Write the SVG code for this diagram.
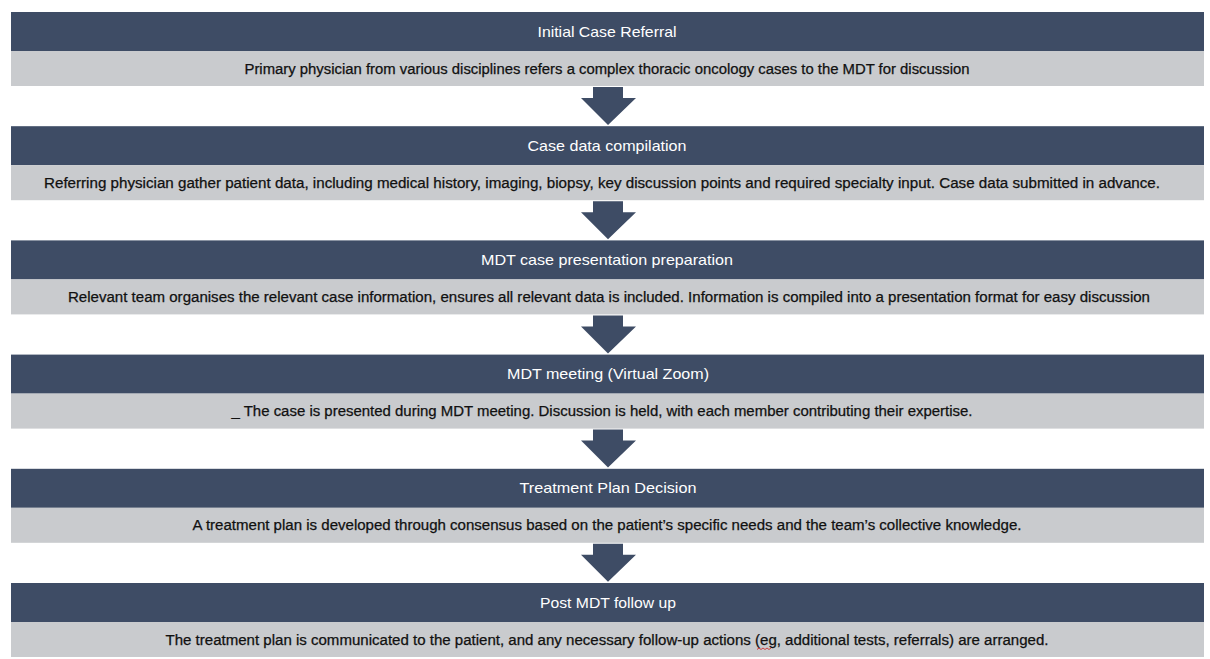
<svg xmlns="http://www.w3.org/2000/svg" width="1210" height="659" viewBox="0 0 1210 659">
<defs>
<style>
.hd{fill:#3e4c65}
.bd{fill:#c9cbce}
.ht{font-family:"Liberation Sans",Arial,sans-serif;font-size:14.5px;fill:#ffffff;text-anchor:middle}
.bt{font-family:"Liberation Sans",Arial,sans-serif;font-size:14px;fill:#111111;stroke:#111111;stroke-width:0.25;text-anchor:middle}
.ar{fill:#3e4c65}
</style>
<linearGradient id="g" x1="0" x2="1" y1="0" y2="0">
<stop offset="0" stop-color="#c3c6ca"/>
<stop offset="0.5" stop-color="#cfd1d3"/>
<stop offset="1" stop-color="#c3c6ca"/>
</linearGradient>
</defs>
<rect width="1210" height="659" fill="#ffffff"/>
<g id="step1">
<rect class="hd" x="11" y="12" width="1193" height="39"/>
<rect class="bd" x="11" y="51" width="1193" height="35" fill="url(#g)"/>
<text class="ht" x="607" y="36.5" textLength="139" lengthAdjust="spacingAndGlyphs">Initial Case Referral</text>
<text class="bt" x="607" y="73.5" textLength="725" lengthAdjust="spacingAndGlyphs">Primary physician from various disciplines refers a complex thoracic oncology cases to the MDT for discussion</text>
</g>
<g id="step2">
<rect class="hd" x="11" y="126.2" width="1193" height="39"/>
<rect class="bd" x="11" y="165.2" width="1193" height="35" fill="url(#g)"/>
<text class="ht" x="607" y="150.7" textLength="159" lengthAdjust="spacingAndGlyphs">Case data compilation</text>
<text class="bt" x="602" y="187.7" textLength="1116" lengthAdjust="spacingAndGlyphs">Referring physician gather patient data, including medical history, imaging, biopsy, key discussion points and required specialty input. Case data submitted in advance.</text>
</g>
<g id="step3">
<rect class="hd" x="11" y="240.4" width="1193" height="39"/>
<rect class="bd" x="11" y="279.4" width="1193" height="35" fill="url(#g)"/>
<text class="ht" x="607" y="264.9" textLength="252" lengthAdjust="spacingAndGlyphs">MDT case presentation preparation</text>
<text class="bt" x="609" y="301.9" textLength="1082" lengthAdjust="spacingAndGlyphs">Relevant team organises the relevant case information, ensures all relevant data is included. Information is compiled into a presentation format for easy discussion</text>
</g>
<g id="step4">
<rect class="hd" x="11" y="354.6" width="1193" height="39"/>
<rect class="bd" x="11" y="393.6" width="1193" height="35" fill="url(#g)"/>
<text class="ht" x="608" y="379.1" textLength="202" lengthAdjust="spacingAndGlyphs">MDT meeting (Virtual Zoom)</text>
<text class="bt" x="602" y="416.1" textLength="741" lengthAdjust="spacingAndGlyphs">_  The case is presented during MDT meeting. Discussion is held, with each member contributing their expertise.</text>
</g>
<g id="step5">
<rect class="hd" x="11" y="468.8" width="1193" height="39"/>
<rect class="bd" x="11" y="507.8" width="1193" height="35" fill="url(#g)"/>
<text class="ht" x="608" y="493.3" textLength="177" lengthAdjust="spacingAndGlyphs">Treatment Plan Decision</text>
<text class="bt" x="607" y="530.3" textLength="829" lengthAdjust="spacingAndGlyphs">A treatment plan is developed through consensus based on the patient’s specific needs and the team’s collective knowledge.</text>
</g>
<g id="step6">
<rect class="hd" x="11" y="583" width="1193" height="39"/>
<rect class="bd" x="11" y="622" width="1193" height="35" fill="url(#g)"/>
<text class="ht" x="608" y="607.5" textLength="136" lengthAdjust="spacingAndGlyphs">Post MDT follow up</text>
<text class="bt" x="607" y="644.5" textLength="883" lengthAdjust="spacingAndGlyphs">The treatment plan is communicated to the patient, and any necessary follow-up actions (eg, additional tests, referrals) are arranged.</text>
<path d="M757 649.5 l2 -1.5 l2 1.5 l2 -1.5 l2 1.5 l2 -1.5 l2 1.5 l2 -1.5" fill="none" stroke="#d03030" stroke-width="0.9"/>
</g>
<g id="connectors">
<polygon class="ar" points="593,87 623,87 623,98 636,98 608,125 581,98 593,98"/>
<polygon class="ar" points="593,201.2 623,201.2 623,212.2 636,212.2 608,239.2 581,212.2 593,212.2"/>
<polygon class="ar" points="593,315.4 623,315.4 623,326.4 636,326.4 608,353.4 581,326.4 593,326.4"/>
<polygon class="ar" points="593,429.6 623,429.6 623,440.6 636,440.6 608,467.6 581,440.6 593,440.6"/>
<polygon class="ar" points="593,543.8 623,543.8 623,554.8 636,554.8 608,581.8 581,554.8 593,554.8"/>
</g>
</svg>
